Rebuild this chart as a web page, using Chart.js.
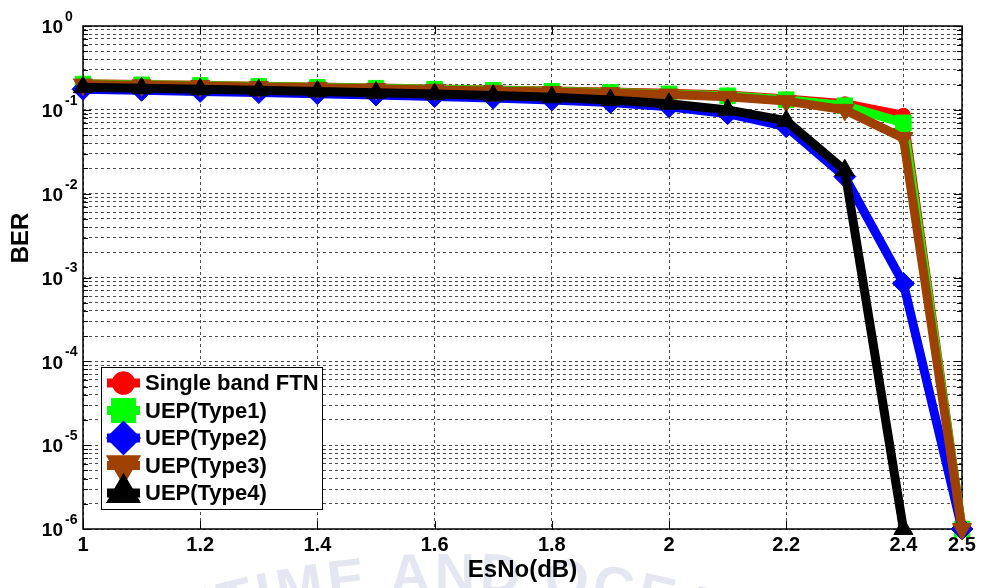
<!DOCTYPE html>
<html>
<head>
<meta charset="utf-8">
<script src="https://cdn.jsdelivr.net/npm/chart.js@4.4.1/dist/chart.umd.min.js"></script>
<style>
  html, body { margin: 0; background: #fff; }
  #wrap { width: 983px; height: 588px; }
</style>
</head>
<body>
<div id="wrap"><canvas id="ber" width="983" height="588"></canvas></div>
<script>
// BER vs EsNo for single-band FTN and the four UEP variants (log y axis)
const esno = [1.0, 1.1, 1.2, 1.3, 1.4, 1.5, 1.6, 1.7, 1.8, 1.9, 2.0, 2.1, 2.2, 2.3, 2.4, 2.5];
const xTickVals = [1, 1.2, 1.4, 1.6, 1.8, 2, 2.2, 2.4, 2.5];
const yExps = [0, -1, -2, -3, -4, -5, -6];
const yMinor = [2, 3, 4, 5, 6, 7, 8, 9];

const berSingle = [0.205, 0.200, 0.196, 0.191, 0.187, 0.182, 0.177, 0.172, 0.168, 0.163, 0.158, 0.150, 0.135, 0.118, 0.086, 1e-6];
const berType1  = [0.203, 0.199, 0.195, 0.190, 0.186, 0.181, 0.176, 0.171, 0.166, 0.161, 0.155, 0.147, 0.132, 0.112, 0.070, 1e-6];
const berType2  = [0.176, 0.171, 0.166, 0.161, 0.156, 0.150, 0.144, 0.138, 0.131, 0.122, 0.109, 0.090, 0.063, 0.016, 8.5e-4, 1e-6];
const berType3  = [0.200, 0.196, 0.192, 0.187, 0.183, 0.178, 0.173, 0.168, 0.163, 0.158, 0.152, 0.143, 0.127, 0.100, 0.046, 1e-6];
const berType4  = [0.186, 0.181, 0.176, 0.171, 0.166, 0.160, 0.154, 0.148, 0.141, 0.131, 0.118, 0.100, 0.074, 0.019, 1e-6];

// faint seal lettering along the bottom edge
const sealText = "KOREA MARITIME AND OCEAN UNIVERSITY";

const BOLD = "'Liberation Sans', Arial, sans-serif";
const BROWN = "#9e4100";

// log grid: every mantissa 1..9 of each decade, plus the top 10^0
const yGrid = [];
for (const e of yExps.slice(1)) for (const m of [1, ...yMinor]) yGrid.push(m * Math.pow(10, e));
yGrid.push(1);

const pts = (arr) => arr.map((v, i) => ({ x: esno[i], y: v }));

function series(label, arr, color, style, radius, rotation, order) {
  return {
    label, data: pts(arr), order,
    borderColor: color, backgroundColor: color, borderWidth: 9,
    pointStyle: style, pointRadius: radius, pointRotation: rotation,
    pointBackgroundColor: color, pointBorderColor: color, pointBorderWidth: 1,
    pointHoverRadius: radius, tension: 0, clip: false,
  };
}

const datasets = [
  series("Single band FTN", berSingle, "#ff0000", "circle", 7, 0, 5),
  series("UEP(Type1)", berType1, "#00ff00", "rect", 11, 0, 4),
  series("UEP(Type2)", berType2, "#0000ff", "rectRot", 11, 0, 3),
  series("UEP(Type3)", berType3, BROWN, "triangle", 11, 180, 2),
  series("UEP(Type4)", berType4, "#000000", "triangle", 11, 0, 1),
];

// box, inward ticks, y labels with exponents, axis label and in-plot legend
const decor = {
  id: "decor",
  beforeDraw(chart) {
    const { ctx } = chart;
    ctx.save();
    ctx.font = `bold 56px ${BOLD}`;
    ctx.fillStyle = "rgba(120,128,190,0.2)";
    ctx.textAlign = "center";
    ctx.textBaseline = "alphabetic";
    const chars = [...sealText];
    const w = chars.map((c) => ctx.measureText(c).width + 4);
    const iA = sealText.indexOf("AND");
    let s = -(w.slice(0, iA).reduce((p, q) => p + q, 0) + (w[iA] + w[iA + 1] + w[iA + 2]) / 2);
    const R = 900, cx = 455, cy = 592 + R;
    chars.forEach((c, i) => {
      const ang = (s + w[i] / 2) / R;
      ctx.save();
      ctx.translate(cx + R * Math.sin(ang), cy - R * Math.cos(ang));
      ctx.rotate(ang);
      ctx.fillText(c, 0, 0);
      ctx.restore();
      s += w[i];
    });
    ctx.restore();
  },
  beforeDatasetsDraw(chart) {
    const { ctx, chartArea: a, scales: { x, y } } = chart;
    ctx.save();
    ctx.strokeStyle = "#000";
    ctx.lineWidth = 1;
    ctx.beginPath();
    for (const v of xTickVals) {
      const px = Math.round(x.getPixelForValue(v)) + 0.5;
      ctx.moveTo(px, a.bottom); ctx.lineTo(px, a.bottom - 8);
      ctx.moveTo(px, a.top); ctx.lineTo(px, a.top + 8);
    }
    for (const v of yGrid) {
      const py = Math.round(y.getPixelForValue(v)) + 0.5;
      const len = Math.abs(Math.log10(v) % 1) < 1e-9 ? 8 : 5;
      ctx.moveTo(a.left, py); ctx.lineTo(a.left + len, py);
      ctx.moveTo(a.right, py); ctx.lineTo(a.right - len, py);
    }
    ctx.stroke();
    ctx.lineWidth = 1.5;
    ctx.strokeRect(a.left, a.top, a.right - a.left, a.bottom - a.top);
    ctx.restore();
  },
  afterDatasetsDraw(chart) {
    const { ctx, chartArea: a } = chart;
    const left = a.left + 18, top = a.bottom - 162, w = 221, h = 142;
    ctx.save();
    ctx.fillStyle = "#fff";
    ctx.fillRect(left, top, w, h);
    ctx.strokeStyle = "#000";
    ctx.lineWidth = 1;
    ctx.strokeRect(left + 0.5, top + 0.5, w, h);
    chart.data.datasets.forEach((ds, i) => {
      const cy = top + 16 + i * 27.5;
      ctx.strokeStyle = ds.borderColor;
      ctx.lineWidth = 9;
      ctx.beginPath();
      ctx.moveTo(left + 6, cy); ctx.lineTo(left + 39, cy);
      ctx.stroke();
      ctx.fillStyle = ds.borderColor;
      Chart.helpers.drawPoint(ctx, {
        pointStyle: ds.pointStyle, rotation: ds.pointRotation,
        radius: ds.pointRadius, borderWidth: 1,
      }, left + 22.5, cy);
      ctx.fill();
      ctx.stroke();
      ctx.fillStyle = "#000";
      ctx.font = `bold 22px ${BOLD}`;
      ctx.textAlign = "left";
      ctx.textBaseline = "middle";
      ctx.fillText(ds.label, left + 44, cy + 1);
    });
    ctx.restore();
  },
  afterDraw(chart) {
    const { ctx, scales: { y } } = chart;
    ctx.save();
    ctx.fillStyle = "#000";
    for (const e of yExps) {
      const py = y.getPixelForValue(Math.pow(10, e));
      ctx.font = `bold 19px ${BOLD}`;
      ctx.textAlign = "right";
      ctx.textBaseline = "middle";
      ctx.fillText("10", 63, py + 2);
      ctx.font = `bold 14px ${BOLD}`;
      ctx.textAlign = "left";
      ctx.fillText(String(e), 65, py - 9);
    }
    ctx.translate(21, 238);
    ctx.rotate(-Math.PI / 2);
    ctx.font = `bold 24px ${BOLD}`;
    ctx.textAlign = "center";
    ctx.textBaseline = "middle";
    ctx.fillText("BER", 0, 0);
    ctx.restore();
  },
};

new Chart(document.getElementById("ber"), {
  type: "line",
  data: { datasets },
  options: {
    responsive: false,
    animation: false,
    layout: { padding: { top: 26, right: 21, left: 0, bottom: 0 } },
    plugins: { legend: { display: false }, tooltip: { enabled: false } },
    scales: {
      x: {
        type: "linear", min: 1, max: 2.5,
        afterBuildTicks: (s) => { s.ticks = xTickVals.map((v) => ({ value: v })); },
        afterFit: (s) => { s.height = 59; },
        grid: { color: "rgba(0,0,0,0.7)", lineWidth: 1, drawTicks: false },
        border: { display: false, dash: [3, 3] },
        ticks: {
          autoSkip: false, maxRotation: 0, padding: 4, color: "#000",
          font: { family: BOLD, size: 20, weight: "bold" },
          callback: (v) => String(v),
        },
        title: {
          display: true, text: "EsNo(dB)", color: "#000",
          font: { family: BOLD, size: 24, weight: "bold" },
          padding: { top: 0, bottom: 3 },
        },
      },
      y: {
        type: "logarithmic", min: 1e-6, max: 1,
        afterBuildTicks: (s) => { s.ticks = yGrid.map((v) => ({ value: v })); },
        afterFit: (s) => { s.width = 83; },
        grid: { color: "rgba(0,0,0,0.7)", lineWidth: 1, drawTicks: false },
        border: { display: false, dash: [3, 3] },
        ticks: { display: false },
      },
    },
  },
  plugins: [decor],
});
</script>
</body>
</html>
